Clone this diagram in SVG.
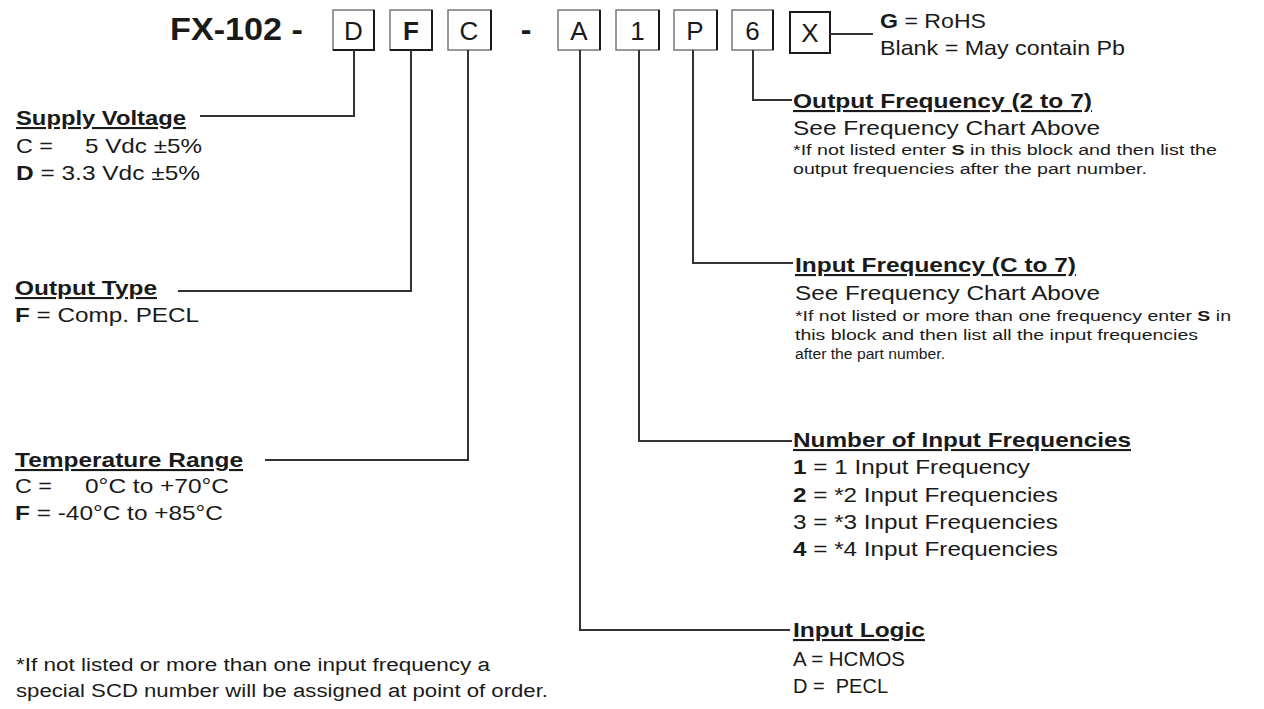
<svg xmlns="http://www.w3.org/2000/svg" width="1264" height="709" viewBox="0 0 1264 709">
<style>
text{font-family:"Liberation Sans",Arial,sans-serif;fill:#1a1a1a;}
.t{font-size:21px;}
.h{font-size:21px;font-weight:bold;text-decoration:underline;}
.s{font-size:15.5px;}
.f{font-size:18px;}
.b{font-weight:bold;}
.box{fill:#fff;stroke:#777;stroke-width:1.5;}
.edge{fill:none;stroke:#1a1a1a;stroke-width:2;}
.lt{font-size:26px;text-anchor:middle;}
.conn path{fill:none;stroke:#333;stroke-width:2;}
</style>
<rect width="1264" height="709" fill="#fff"/>
<g id="title">
<text x="170" y="40" font-size="32" font-weight="bold" textLength="133" lengthAdjust="spacingAndGlyphs">FX-102 -</text>
<text x="526" y="40" font-size="32" font-weight="bold" text-anchor="middle">-</text>
</g>
<g id="box-D"><rect class="box" x="333" y="10" width="41" height="40"/><path class="edge" d="M374 10V50H333"/><text class="lt" x="353.5" y="39.5">D</text></g>
<g id="box-F"><rect class="box" x="390" y="10" width="42" height="40"/><path class="edge" d="M432 10V50H390"/><text class="lt b" x="411" y="39.5">F</text></g>
<g id="box-C"><rect class="box" x="448" y="10" width="43" height="40"/><path class="edge" d="M491 10V50"/><text class="lt" x="469" y="39.5">C</text></g>
<g id="box-A"><rect class="box" x="558" y="10" width="42" height="40"/><path class="edge" d="M600 10V50"/><text class="lt" x="579" y="39.5">A</text></g>
<g id="box-1"><rect class="box" x="616" y="10" width="43" height="40"/><path class="edge" d="M659 10V50"/><text class="lt" x="637.5" y="39.5">1</text></g>
<g id="box-P"><rect class="box" x="674" y="10" width="43" height="40"/><path class="edge" d="M717 10V50"/><text class="lt" x="695" y="39.5">P</text></g>
<g id="box-6"><rect class="box" x="732" y="10" width="41" height="40"/><path class="edge" d="M773 10V50"/><text class="lt" x="752.5" y="39.5">6</text></g>
<g id="box-X"><rect x="790" y="12" width="40" height="41" fill="#fff" stroke="#1a1a1a" stroke-width="2"/><text class="lt" x="810" y="41.5">X</text></g>
<g class="conn" id="connectors">
<path d="M354 50V116H200"/>
<path d="M411 50V291H178"/>
<path d="M468 50V460H265"/>
<path d="M580 50V630H790"/>
<path d="M639 50V441H792"/>
<path d="M693 50V263H793"/>
<path d="M753 50V100H792"/>
<path d="M830 34H873"/>
</g>
<g id="rohs">
<text class="t" x="880" y="28" textLength="106" lengthAdjust="spacingAndGlyphs"><tspan class="b">G</tspan> = RoHS</text>
<text class="t" x="880" y="55" textLength="245" lengthAdjust="spacingAndGlyphs">Blank = May contain Pb</text>
</g>
<g id="supply-voltage">
<text class="h" x="16" y="125" textLength="170" lengthAdjust="spacingAndGlyphs">Supply Voltage</text>
<text class="t" x="16" y="153" textLength="37" lengthAdjust="spacingAndGlyphs">C =</text>
<text class="t" x="85" y="153" textLength="117" lengthAdjust="spacingAndGlyphs">5 Vdc ±5%</text>
<text class="t" x="16" y="180" textLength="184" lengthAdjust="spacingAndGlyphs"><tspan class="b">D</tspan> = 3.3 Vdc ±5%</text>
</g>
<g id="output-type">
<text class="h" x="15" y="295" textLength="142" lengthAdjust="spacingAndGlyphs">Output Type</text>
<text class="t" x="15" y="322" textLength="184" lengthAdjust="spacingAndGlyphs"><tspan class="b">F</tspan> = Comp. PECL</text>
</g>
<g id="temperature-range">
<text class="h" x="15" y="467" textLength="228" lengthAdjust="spacingAndGlyphs">Temperature Range</text>
<text class="t" x="15" y="493" textLength="37" lengthAdjust="spacingAndGlyphs">C =</text>
<text class="t" x="85" y="493" textLength="144" lengthAdjust="spacingAndGlyphs">0°C to +70°C</text>
<text class="t" x="15" y="520" textLength="208" lengthAdjust="spacingAndGlyphs"><tspan class="b">F</tspan> = -40°C to +85°C</text>
</g>
<g id="output-frequency">
<text class="h" x="793" y="108" textLength="299" lengthAdjust="spacingAndGlyphs">Output Frequency (2 to 7)</text>
<text class="t" x="793" y="135" textLength="307" lengthAdjust="spacingAndGlyphs">See Frequency Chart Above</text>
<text class="s" x="793" y="155" textLength="424" lengthAdjust="spacingAndGlyphs">*If not listed enter <tspan class="b">S</tspan> in this block and then list the</text>
<text class="s" x="793" y="174" textLength="354" lengthAdjust="spacingAndGlyphs">output frequencies after the part number.</text>
</g>
<g id="input-frequency">
<text class="h" x="795" y="272" textLength="281" lengthAdjust="spacingAndGlyphs">Input Frequency (C to 7)</text>
<text class="t" x="795" y="300" textLength="305" lengthAdjust="spacingAndGlyphs">See Frequency Chart Above</text>
<text class="s" x="795" y="321" textLength="436" lengthAdjust="spacingAndGlyphs">*If not listed or more than one frequency enter <tspan class="b">S</tspan> in</text>
<text class="s" x="795" y="340" textLength="403" lengthAdjust="spacingAndGlyphs">this block and then list all the input frequencies</text>
<text class="s" x="795" y="359" textLength="150" lengthAdjust="spacingAndGlyphs">after the part number.</text>
</g>
<g id="number-of-input-frequencies">
<text class="h" x="793" y="447" textLength="338" lengthAdjust="spacingAndGlyphs">Number of Input Frequencies</text>
<text class="t" x="793" y="474" textLength="237" lengthAdjust="spacingAndGlyphs"><tspan class="b">1</tspan> = 1 Input Frequency</text>
<text class="t" x="793" y="502" textLength="265" lengthAdjust="spacingAndGlyphs"><tspan class="b">2</tspan> = *2 Input Frequencies</text>
<text class="t" x="793" y="529" textLength="265" lengthAdjust="spacingAndGlyphs">3 = *3 Input Frequencies</text>
<text class="t" x="793" y="556" textLength="265" lengthAdjust="spacingAndGlyphs"><tspan class="b">4</tspan> = *4 Input Frequencies</text>
</g>
<g id="input-logic">
<text class="h" x="793" y="637" textLength="132" lengthAdjust="spacingAndGlyphs">Input Logic</text>
<text class="t" x="793" y="666" textLength="112" lengthAdjust="spacingAndGlyphs">A = HCMOS</text>
<text class="t" x="793" y="693" textLength="95" lengthAdjust="spacingAndGlyphs" xml:space="preserve">D =  PECL</text>
</g>
<g id="footnote">
<text class="f" x="16" y="671" textLength="474" lengthAdjust="spacingAndGlyphs">*If not listed or more than one input frequency a</text>
<text class="f" x="16" y="697" textLength="532" lengthAdjust="spacingAndGlyphs">special SCD number will be assigned at point of order.</text>
</g>
</svg>
